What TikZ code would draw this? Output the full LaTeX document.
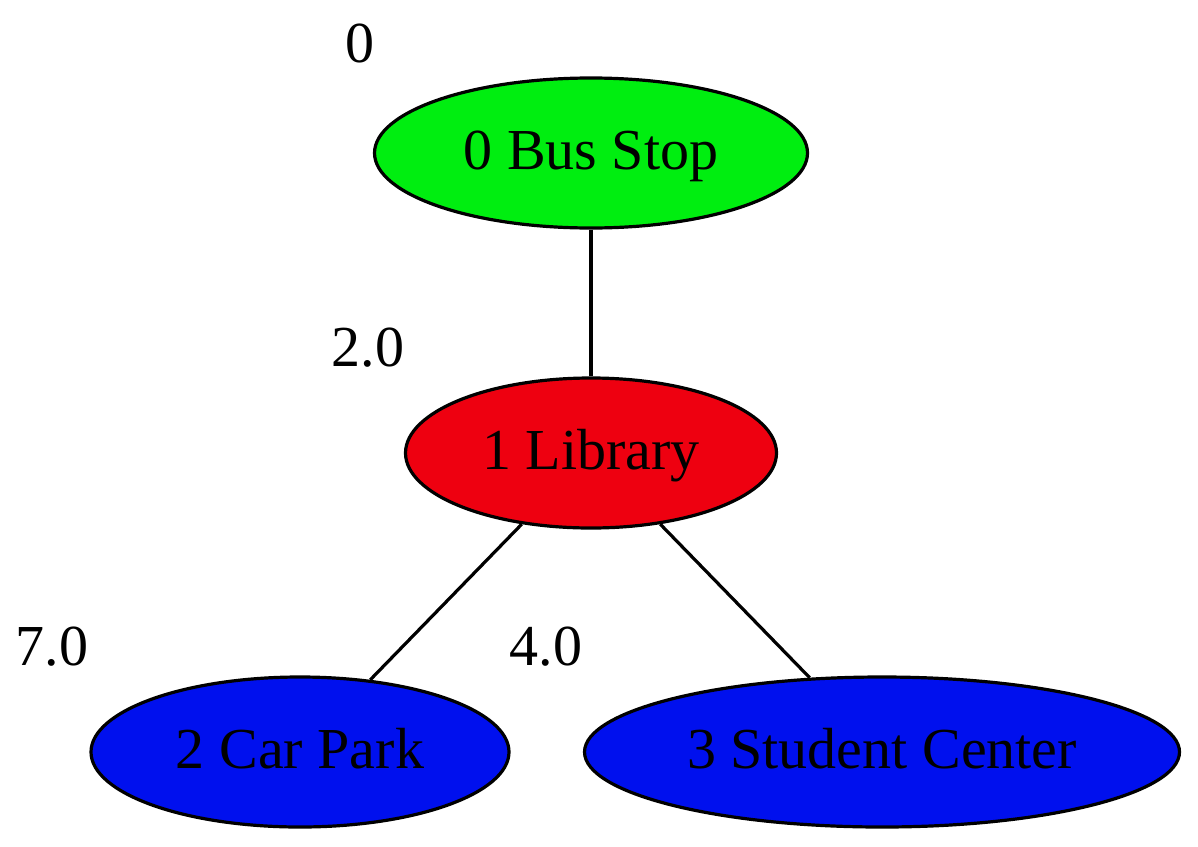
\documentclass[tikz,border=0pt]{standalone}
\usepackage{fontspec}
\setmainfont{Liberation Serif}
\usetikzlibrary{shapes.geometric}
\definecolor{ngreen}{RGB}{0,238,16}
\definecolor{nred}{RGB}{238,0,16}
\definecolor{nblue}{RGB}{0,16,238}
\tikzset{
  place/.style={ellipse, draw=black, line width=3.2pt, inner sep=0pt,
    minimum height=150pt, text height=33pt, text depth=0pt,
    font=\fontsize{58}{68}\selectfont},
  dist/.style={anchor=base, inner sep=0pt, font=\fontsize{58}{68}\selectfont},
  link/.style={draw=black, line width=3.2pt}
}
\begin{document}
\begin{tikzpicture}[x=1pt,y=-1pt]
\useasboundingbox (0,0) rectangle (1198,846);
\node[place, fill=ngreen, minimum width=433pt] (bus) at (591,153) {0 Bus Stop};
\node[place, fill=nred, minimum width=371pt] (lib) at (591,453) {1 Library};
\node[place, fill=nblue, minimum width=418pt] (car) at (300,752) {2 Car Park};
\node[place, fill=nblue, minimum width=595pt] (stu) at (882,752) {3 Student Center};
\node[dist] (d0) at (360,62) {0};
\node[dist] (d1) at (368,366) {2.0};
\node[dist] (d2) at (52,665) {7.0};
\node[dist] (d3) at (546,665) {4.0};
\draw[link] (bus) -- (lib);
\draw[link] (lib) -- (car);
\draw[link] (lib) -- (stu);
\end{tikzpicture}
\end{document}
